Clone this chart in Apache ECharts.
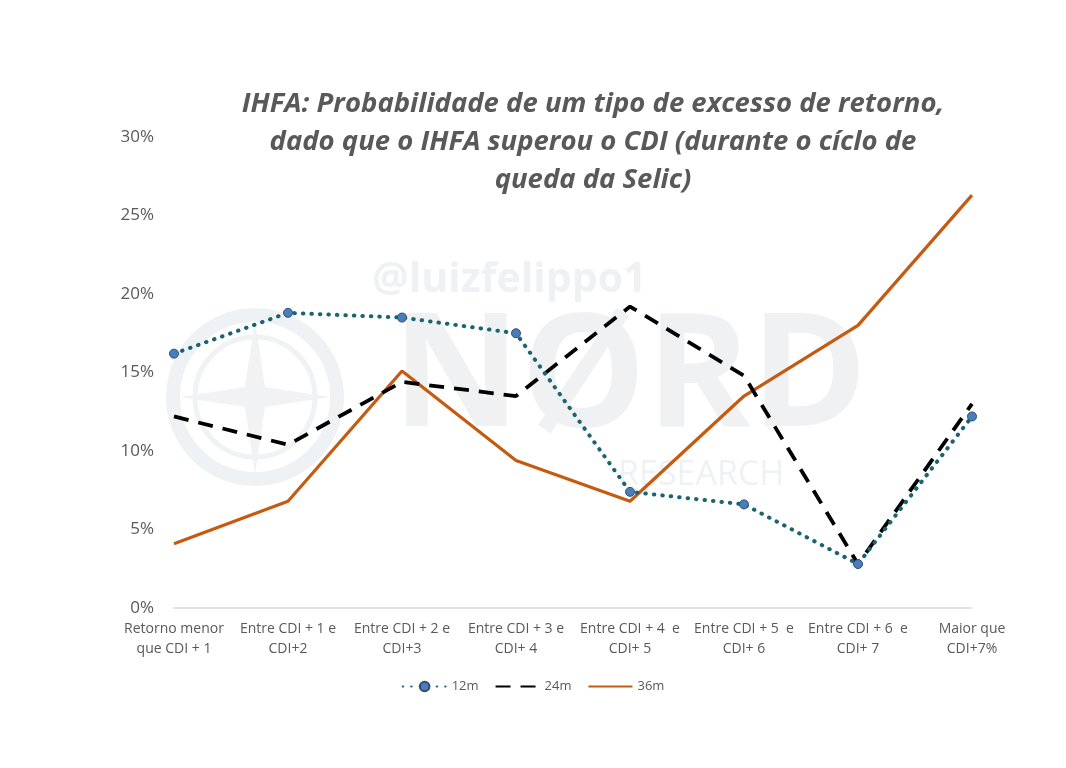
<!DOCTYPE html>
<html><head><meta charset="utf-8">
<script src="https://cdn.jsdelivr.net/npm/echarts@6/dist/echarts.min.js"></script>
<style>html,body{margin:0;padding:0;background:#fff}#c{width:1066px;height:768px}</style>
</head><body><div id="c"></div>
<script>
const categories = ["Retorno menor\nque CDI + 1","Entre CDI + 1 e\nCDI+2","Entre CDI + 2 e\nCDI+3","Entre CDI + 3 e\nCDI+ 4","Entre CDI + 4  e\nCDI+ 5","Entre CDI + 5  e\nCDI+ 6","Entre CDI + 6  e\nCDI+ 7","Maior que\nCDI+7%"];
const s12m = [16.2, 18.8, 18.5, 17.5, 7.4, 6.6, 2.8, 12.2];
const s24m = [12.2, 10.4, 14.4, 13.5, 19.2, 14.8, 2.8, 13.0];
const s36m = [4.1, 6.8, 15.1, 9.4, 6.8, 13.5, 18.0, 26.3];
const seriesNames = ["12m","24m","36m"];
const titleText = "IHFA: Probabilidade de um tipo de excesso de retorno,\ndado que o IHFA superou o CDI (durante o cíclo de\nqueda da Selic)";

const font = "'Open Sans',sans-serif";
const chart = echarts.init(document.getElementById('c'));
chart.setOption({
  backgroundColor: '#ffffff',
  animation: false,
  graphic: [
    {type:'text', left: 372, top: 260, z: 0, style:{text:'@luizfelippo1', font:"bold 41px 'Open Sans',sans-serif", fill:'#eff1f3'}},
    {type:'text', left: 392, top: 302, z: 0, style:{text:'NØRD', font:"bold 158px 'Open Sans',sans-serif", fill:'#eff1f3'}},
    {type:'text', left: 618, top: 458, z: 0, style:{text:'RESEARCH', font:"34px 'Open Sans',sans-serif", fill:'#eff1f3', letterSpacing: 12}},
    {type:'circle', shape:{cx:255, cy:397, r:82}, z:0, style:{fill:'none', stroke:'#eff2f4', lineWidth:14}},
    {type:'circle', shape:{cx:255, cy:397, r:60}, z:0, style:{fill:'none', stroke:'#f1f2f4', lineWidth:5}},
    {type:'polygon', z:0, shape:{points:[[255,320],[265,387],[330,397],[265,407],[255,474],[245,407],[180,397],[245,387]]}, style:{fill:'#f0f2f4'}}
  ],
  title: {
    text: titleText,
    left: 588, top: 80, textAlign: 'center',
    textStyle: {fontFamily: font, fontStyle:'italic', fontWeight:'bold', fontSize: 27.5, lineHeight: 38, color:'#595959'}
  },
  legend: {
    bottom: 70, left: 'center', itemWidth: 44, itemHeight: 12, itemGap: 16,
    data: [
      {name:'12m'},
      {name:'24m', itemStyle:{color:'transparent', borderWidth:0}},
      {name:'36m', itemStyle:{color:'transparent', borderWidth:0}}
    ],
    textStyle: {fontFamily: font, fontSize: 13, color:'#595959'}
  },
  grid: {left: 174, right: 94, top: 137, bottom: 160, containLabel: false},
  xAxis: {
    type: 'category', data: categories, boundaryGap: false,
    axisLine: {lineStyle:{color:'#d9d9d9', width:1.5}},
    axisTick: {show:false},
    axisLabel: {interval: 0, margin: 11, fontFamily: font, fontSize: 14, lineHeight: 20, color:'#595959'}
  },
  yAxis: {
    type: 'value', min: 0, max: 30, interval: 5,
    splitLine: {show:false},
    axisLine: {show:false}, axisTick:{show:false},
    axisLabel: {formatter: v => v + '%', margin: 20, fontFamily: font, fontSize: 17, color:'#595959'}
  },
  series: [
    {name:'12m', type:'line', data: s12m, symbol:'circle', symbolSize: 9,
     lineStyle:{color:'#1a6470', width:4, type:[0.5,8], cap:'round'},
     itemStyle:{color:'#4a7ebb', borderColor:'#2c4d75', borderWidth:1}, z: 3},
    {name:'24m', type:'line', data: s24m, symbol:'none', showSymbol:false,
     lineStyle:{color:'#000000', width:3.8, type:[15,10]},
     itemStyle:{color:'#000000'}, z: 2},
    {name:'36m', type:'line', data: s36m, symbol:'none', showSymbol:false,
     lineStyle:{color:'#c55a11', width:3.2},
     itemStyle:{color:'#c55a11'}, z: 1}
  ]
});
</script></body></html>
